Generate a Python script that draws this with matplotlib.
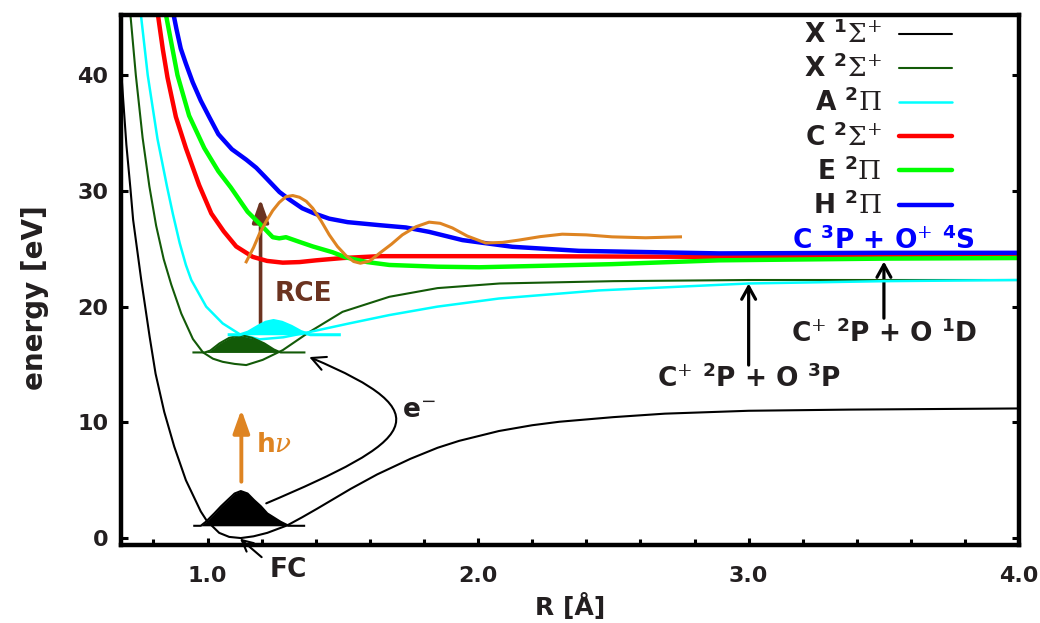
import numpy as np
import matplotlib.pyplot as plt
from matplotlib.path import Path
from matplotlib.patches import FancyArrowPatch
from matplotlib.ticker import MultipleLocator, FormatStrFormatter

plt.rcParams['font.family'] = ['DejaVu Sans']
plt.rcParams['font.weight'] = 'bold'
plt.rcParams['mathtext.fontset'] = 'custom'
plt.rcParams['mathtext.rm'] = 'DejaVu Serif:weight=normal'
plt.rcParams['mathtext.it'] = 'DejaVu Serif:style=italic:weight=normal'
plt.rcParams['mathtext.bf'] = 'DejaVu Sans:weight=bold'

TEXT = '#231f20'

# potential energy curves, R in Angstrom, energy in eV
r_x1 = [0.681, 0.70, 0.715, 0.725, 0.755, 0.786, 0.808, 0.84, 0.877, 0.92, 0.975, 0.997,
        1.043, 1.08, 1.123, 1.17, 1.221, 1.295, 1.35, 1.406, 1.529, 1.627, 1.75, 1.85,
        1.93, 2.077, 2.2, 2.3, 2.5, 2.69, 3.0, 3.37, 4.0]
e_x1 = [40.3, 34.0, 30.2, 27.5, 22.3, 17.4, 14.2, 10.9, 7.9, 5.0, 2.3, 1.5,
        0.45, 0.1, 0.0, 0.15, 0.45, 1.1, 1.8, 2.55, 4.25, 5.5, 6.85, 7.8,
        8.4, 9.25, 9.75, 10.05, 10.45, 10.75, 11.0, 11.1, 11.2]

r_x2 = [0.712, 0.735, 0.76, 0.785, 0.81, 0.838, 0.866, 0.903, 0.946, 0.983, 1.02, 1.056,
        1.10, 1.143, 1.204, 1.278, 1.376, 1.499, 1.672, 1.85, 2.08, 2.5, 3.0, 4.0]
e_x2 = [46.0, 40.0, 34.6, 30.4, 27.0, 24.1, 21.9, 19.4, 17.2, 16.05, 15.5, 15.23,
        15.05, 14.95, 15.4, 16.24, 17.8, 19.55, 20.85, 21.6, 22.0, 22.2, 22.3, 22.3]

r_a = [0.75, 0.779, 0.815, 0.85, 0.872, 0.897, 0.92, 0.94, 0.995, 1.056, 1.12, 1.192,
       1.28, 1.376, 1.524, 1.672, 1.85, 2.077, 2.446, 3.0, 3.5, 4.0]
e_a = [46.0, 40.0, 34.5, 30.4, 28.0, 25.5, 23.6, 22.3, 20.0, 18.55, 17.6, 17.17,
       17.35, 17.8, 18.55, 19.27, 20.0, 20.7, 21.4, 22.0, 22.2, 22.3]

r_c = [0.815, 0.835, 0.852, 0.883, 0.92, 0.969, 1.014, 1.06, 1.106, 1.167, 1.22, 1.278,
       1.34, 1.401, 1.5, 1.635, 2.125, 2.89, 3.5, 4.0]
e_c = [45.5, 42.2, 39.8, 36.4, 33.7, 30.5, 28.05, 26.5, 25.2, 24.3, 23.95, 23.8,
       23.85, 24.0, 24.2, 24.36, 24.36, 24.3, 24.35, 24.4]

r_e = [0.84, 0.889, 0.932, 0.988, 1.04, 1.086, 1.148, 1.204, 1.241, 1.265, 1.29, 1.339,
       1.389, 1.462, 1.512, 1.59, 1.672, 1.85, 2.004, 2.495, 2.89, 3.5, 4.0]
e_e = [46.0, 40.0, 36.5, 33.7, 31.7, 30.3, 28.2, 26.9, 26.0, 25.9, 26.0, 25.6,
       25.2, 24.7, 24.25, 23.85, 23.6, 23.45, 23.4, 23.67, 24.0, 24.15, 24.2]

r_h = [0.868, 0.885, 0.901, 0.92, 0.945, 0.975, 1.006, 1.04, 1.09, 1.143, 1.18, 1.209,
       1.266, 1.30, 1.35, 1.395, 1.45, 1.518, 1.635, 1.733, 1.819, 1.942, 2.127, 2.373,
       2.89, 3.5, 4.0]
e_h = [46.0, 44.0, 42.3, 41.0, 39.4, 37.8, 36.4, 34.9, 33.6, 32.7, 32.0, 31.3,
       29.9, 29.3, 28.5, 28.05, 27.6, 27.3, 27.04, 26.84, 26.46, 25.75, 25.17, 24.82,
       24.6, 24.65, 24.65]

# oscillating trace above the C/E/H curves
r_osc = [1.143, 1.17, 1.192, 1.215, 1.241, 1.265, 1.29, 1.315, 1.34, 1.365, 1.389, 1.42,
         1.45, 1.48, 1.512, 1.54, 1.565, 1.60, 1.635, 1.68, 1.72, 1.77, 1.819, 1.86,
         1.905, 1.96, 2.028, 2.09, 2.151, 2.23, 2.311, 2.40, 2.495, 2.619, 2.748]
e_osc = [23.87, 25.1, 26.3, 27.3, 28.3, 29.0, 29.5, 29.6, 29.45, 29.1, 28.5, 27.4,
         26.2, 25.2, 24.4, 23.9, 23.75, 23.95, 24.6, 25.4, 26.2, 26.9, 27.3, 27.2,
         26.8, 26.1, 25.5, 25.55, 25.75, 26.05, 26.26, 26.2, 26.03, 25.95, 26.03]

# vibrational wave packets: outline and the level they sit on
r_wp0 = [0.951, 0.975, 0.994, 1.025, 1.05, 1.074, 1.10, 1.123, 1.148, 1.172, 1.197,
         1.221, 1.27, 1.30, 1.357]
e_wp0 = [1.06, 1.06, 1.41, 2.13, 2.75, 3.28, 3.85, 4.06, 3.85, 3.28, 2.75,
         2.13, 1.41, 1.06, 1.06]
lvl_wp0 = 1.06

r_wp1 = [0.948, 0.99, 1.01, 1.044, 1.08, 1.124, 1.165, 1.21, 1.245, 1.27, 1.358]
e_wp1 = [16.04, 16.04, 16.2, 16.82, 17.3, 17.54, 17.3, 16.82, 16.3, 16.04, 16.04]
lvl_wp1 = 16.04

r_wp2 = [1.08, 1.12, 1.15, 1.19, 1.215, 1.244, 1.275, 1.31, 1.345, 1.38, 1.487]
e_wp2 = [17.57, 17.57, 17.8, 18.35, 18.65, 18.8, 18.65, 18.3, 17.85, 17.57, 17.57]
lvl_wp2 = 17.57

states = [
    (r'X $^{\mathbf{1}}\Sigma^{+}$', r_x1, e_x1, 'black', 1.5),
    (r'X $^{\mathbf{2}}\Sigma^{+}$', r_x2, e_x2, '#135a08', 1.5),
    (r'A $^{\mathbf{2}}\Pi$', r_a, e_a, '#00ffff', 1.8),
    (r'C $^{\mathbf{2}}\Sigma^{+}$', r_c, e_c, '#ff0000', 3.2),
    (r'E $^{\mathbf{2}}\Pi$', r_e, e_e, '#00ff00', 3.2),
    (r'H $^{\mathbf{2}}\Pi$', r_h, e_h, '#0000ff', 3.2),
]

fig = plt.figure(figsize=(10.4, 6.23), dpi=100)
ax = fig.add_axes([0.1163, 0.1252, 0.8637, 0.8507])

for label, r, e, color, lw in states:
    ax.plot(r, e, color=color, lw=lw, label=label, solid_capstyle='round',
            solid_joinstyle='round')

ax.plot(r_osc, e_osc, color='#de8422', lw=2.2, solid_joinstyle='round')

# wave packets
for r, e, lvl, color, lw in [(r_wp0, e_wp0, lvl_wp0, 'black', 1.5),
                             (r_wp1, e_wp1, lvl_wp1, '#135a08', 1.5),
                             (r_wp2, e_wp2, lvl_wp2, '#00ffff', 2.2)]:
    ax.fill_between(r, lvl, e, color=color, lw=0)
    ax.plot(r, e, color=color, lw=lw)


def arrow(p0, p1, color, lw, style, clip=True):
    a = FancyArrowPatch(p0, p1, arrowstyle=style, color=color, lw=lw,
                        mutation_scale=20, shrinkA=0, shrinkB=0, clip_on=clip)
    ax.add_patch(a)


# excitation and charge-exchange arrows
arrow((1.125, 4.87), (1.125, 11.1), '#de8422', 2.8, '-|>,head_length=0.7,head_width=0.25')
arrow((1.196, 18.55), (1.196, 29.3), '#6b3320', 2.6, '-|>,head_length=0.7,head_width=0.25')
arrow((3.0, 14.95), (3.0, 22.0), 'black', 2.3, '->,head_length=0.45,head_width=0.25')
arrow((3.5, 19.0), (3.5, 23.9), 'black', 2.3, '->,head_length=0.45,head_width=0.25')
arrow((1.20, -1.65), (1.12, -0.05), 'black', 1.5, '->,head_length=0.4,head_width=0.2', clip=False)

# electron path from the neutral well to the ion well
e_path = Path([(1.217, 3.0), (1.76, 8.4), (1.88, 10.7), (1.376, 15.64)],
              [Path.MOVETO, Path.CURVE4, Path.CURVE4, Path.CURVE4])
ax.add_patch(FancyArrowPatch(path=e_path, arrowstyle='->,head_length=0.5,head_width=0.25',
                             color='black', lw=1.5, mutation_scale=20,
                             shrinkA=0, shrinkB=0))

ax.text(1.178, 7.46, r'h$\nu$', color='#de8422', fontsize=19, fontweight='bold')
ax.text(1.247, 20.5, 'RCE', color='#6b3320', fontsize=19, fontweight='bold')
ax.text(1.72, 10.37, r'e$^{-}$', color=TEXT, fontsize=19, fontweight='bold')
ax.text(1.229, -3.34, 'FC', color=TEXT, fontsize=19, fontweight='bold', clip_on=False)
ax.text(3.0, 13.07, r'C$^{+}$ $^{\mathbf{2}}$P + O $^{\mathbf{3}}$P', color=TEXT,
        fontsize=19, fontweight='bold', ha='center')
ax.text(3.5, 16.96, r'C$^{+}$ $^{\mathbf{2}}$P + O $^{\mathbf{1}}$D', color=TEXT,
        fontsize=19, fontweight='bold', ha='center')
ax.text(3.5, 25.0, r'C $^{\mathbf{3}}$P + O$^{+}$ $^{\mathbf{4}}$S', color='#0000ff',
        fontsize=19, fontweight='bold', ha='center')

ax.set_xlim(0.68, 4.0)
ax.set_ylim(-0.6, 45.2)
ax.xaxis.set_major_locator(MultipleLocator(1.0))
ax.xaxis.set_minor_locator(MultipleLocator(0.2))
ax.xaxis.set_major_formatter(FormatStrFormatter('%.1f'))
ax.yaxis.set_major_locator(MultipleLocator(10))
ax.tick_params(axis='both', which='both', direction='in', width=2.2, colors='black',
               labelcolor=TEXT, labelsize=16)
ax.tick_params(axis='x', which='major', length=5, pad=15)
ax.tick_params(axis='x', which='minor', length=4)
ax.tick_params(axis='y', which='major', length=5, pad=9, right=True)
for s in ax.spines.values():
    s.set_linewidth(3.2)

ax.set_xlabel('R [Å]', fontsize=18, fontweight='bold', color=TEXT, labelpad=5)
ax.set_ylabel('energy [eV]', fontsize=20, fontweight='bold', color=TEXT)
ax.yaxis.set_label_coords(-0.080, 0.466)

leg = ax.legend(loc='upper right', bbox_to_anchor=(0.925, 0.988), frameon=False,
                markerfirst=False, handlelength=2.0, handletextpad=0.65,
                labelspacing=0.24, borderpad=0, borderaxespad=0,
                prop={'weight': 'bold', 'size': 19})
for t in leg.get_texts():
    t.set_color(TEXT)

fig.savefig('out.png', dpi=100)
plt.close(fig)
